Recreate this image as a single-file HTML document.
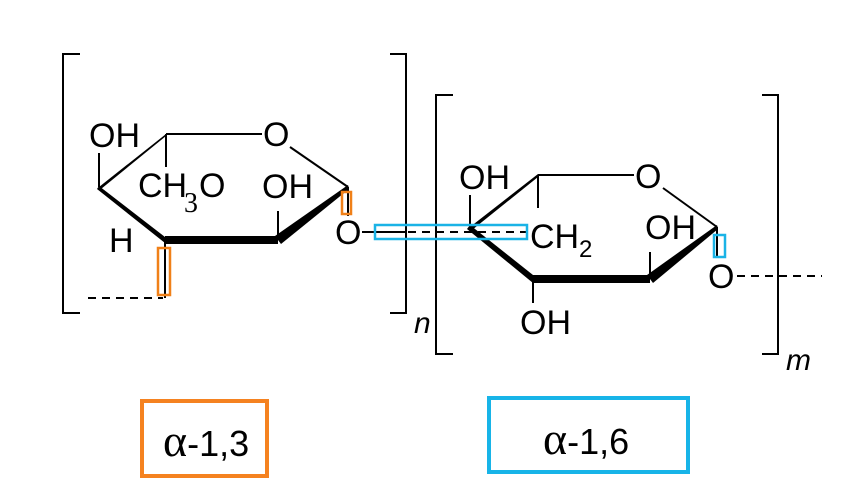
<!DOCTYPE html>
<html><head><meta charset="utf-8"><style>
html,body{margin:0;padding:0;background:#fff;}
svg{display:block;}
text{font-family:"Liberation Sans",sans-serif;fill:#000;font-size:34px;}
</style></head><body>
<svg width="867" height="489" viewBox="0 0 867 489" xmlns="http://www.w3.org/2000/svg">
<g stroke="#000" stroke-width="2" fill="none">
  <polyline points="80,54 63,54 63,313 80,313"/>
  <polyline points="390,54 406,54 406,313 390,313"/>
  <polyline points="453,95 436,95 436,354 453,354"/>
  <polyline points="762,95 778,95 778,354 762,354"/>
  <line x1="166" y1="134" x2="262" y2="134"/>
  <line x1="290" y1="147" x2="348" y2="187"/>
  <line x1="166" y1="134" x2="166" y2="167"/>
  <line x1="99" y1="187" x2="99" y2="153"/>
  <line x1="278" y1="240" x2="278" y2="211"/>
  <line x1="348" y1="187" x2="348" y2="216"/>
  <line x1="362" y1="232" x2="406" y2="232"/>
  <line x1="165" y1="240" x2="165" y2="298"/>
  <line x1="88" y1="298" x2="163" y2="298" stroke-dasharray="8,6"/>
  <line x1="380" y1="232" x2="527" y2="232" stroke-dasharray="8,6"/>
  <line x1="538" y1="175" x2="634" y2="175"/>
  <line x1="663" y1="188" x2="717" y2="227"/>
  <line x1="538" y1="175" x2="538" y2="208"/>
  <line x1="470" y1="227" x2="470" y2="195"/>
  <line x1="650" y1="279" x2="650" y2="252"/>
  <line x1="533" y1="279" x2="533" y2="303"/>
  <line x1="717" y1="227" x2="717" y2="258"/>
  <line x1="737" y1="276" x2="822" y2="276" stroke-dasharray="8,6"/>
</g>
<g fill="#000">
  <polygon points="99,187 166,134 166,136 101,189"/>
  <polygon points="99,186 165,237 165,243 97,189"/>
  <polygon points="165,236 278,236 278,244 165,244"/>
  <polygon points="275,236 348,185 349,189 281,244"/>
  <polygon points="470,227 538,174 538,177 472,230"/>
  <polygon points="470,225 533,275 533,283 467,229"/>
  <polygon points="533,275 650,275 650,283 533,283"/>
  <polygon points="647,275 717,225 718,229 653,283"/>
</g>
<text x="89" y="147">OH</text>
<text x="263" y="146">O</text>
<text x="138" y="197">CH</text>
<text x="184" y="212" style="font-family:'Liberation Serif',serif;font-size:28px">3</text>
<text x="199" y="197">O</text>
<text x="262" y="198">OH</text>
<text x="109" y="252">H</text>
<text x="335" y="244">O</text>
<text x="414" y="333" style="font-style:italic;font-size:30px">n</text>
<text x="459" y="189">OH</text>
<text x="635" y="188">O</text>
<text x="530" y="248">CH</text>
<text x="579" y="257" style="font-size:24px">2</text>
<text x="645" y="239">OH</text>
<text x="708" y="288">O</text>
<text x="520" y="334">OH</text>
<text x="786" y="370" style="font-style:italic;font-size:30px">m</text>
<g fill="none" stroke-width="2.5">
  <rect x="342" y="192" width="9" height="22" stroke="#f08018"/>
  <rect x="158" y="248" width="12" height="47" stroke="#f08018"/>
  <rect x="375" y="225" width="152" height="14" stroke="#1ab3e6"/>
  <rect x="714" y="235" width="11" height="22" stroke="#1ab3e6"/>
</g>
<rect x="142" y="401" width="125" height="75" fill="none" stroke="#f58220" stroke-width="4"/>
<rect x="489" y="398" width="199" height="74" fill="none" stroke="#17b4e8" stroke-width="4"/>
<text x="163" y="456" style="font-size:36px"><tspan style="font-family:'Liberation Serif',serif;font-size:46px">α</tspan>-1,3</text>
<text x="543" y="454" style="font-size:36px"><tspan style="font-family:'Liberation Serif',serif;font-size:46px">α</tspan>-1,6</text>
</svg>
</body></html>
